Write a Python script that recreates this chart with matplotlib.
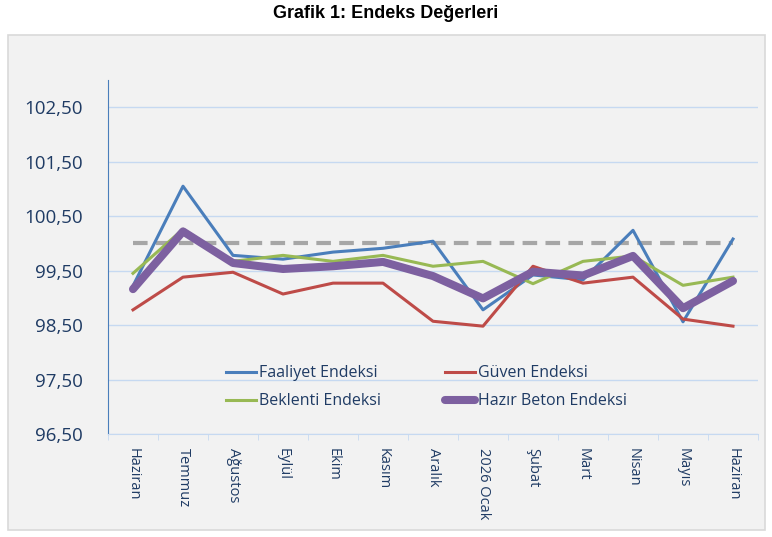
import matplotlib
matplotlib.use("Agg")
import matplotlib.pyplot as plt
from matplotlib.patches import Rectangle

months = ["Haziran", "Temmuz", "Ağustos", "Eylül", "Ekim", "Kasım", "Aralık",
          "2026 Ocak", "Şubat", "Mart", "Nisan", "Mayıs", "Haziran"]
faaliyet = [99.22, 101.05, 99.78, 99.71, 99.84, 99.91, 100.04,
            98.78, 99.42, 99.33, 100.24, 98.56, 100.08]
guven = [98.78, 99.38, 99.47, 99.07, 99.27, 99.27, 98.57,
         98.48, 99.58, 99.27, 99.38, 98.61, 98.48]
beklenti = [99.45, 100.26, 99.67, 99.78, 99.67, 99.78, 99.58,
            99.67, 99.26, 99.67, 99.77, 99.23, 99.38]
hazir_beton = [99.16, 100.22, 99.64, 99.53, 99.58, 99.66, 99.40,
               98.99, 99.48, 99.41, 99.77, 98.81, 99.31]
reference = [100.0] * len(months)
y_ticks = [96.5, 97.5, 98.5, 99.5, 100.5, 101.5, 102.5]
y_labels = ["96,50", "97,50", "98,50", "99,50", "100,50", "101,50", "102,50"]

plt.rcParams['font.family'] = ['Open Sans', 'DejaVu Sans']
txt = "#1f3b64"
bg = "#f2f2f2"

fig = plt.figure(figsize=(7.72, 5.37), dpi=100)
fig.patch.set_facecolor("white")
# chart area box
fig.patches.append(Rectangle((8 / 772, 7 / 537), 757 / 772, 495 / 537,
                             transform=fig.transFigure, facecolor=bg,
                             edgecolor="#d9d9d9", lw=1.2, zorder=-5))
fig.text(386 / 772, 1 - 13 / 537, "Grafik 1: Endeks Değerleri", ha="center", va="center",
         fontsize=13, fontweight="bold", family="Liberation Sans")

ax = fig.add_axes([108 / 772, 103 / 537, 650 / 772, 354 / 537])
ax.set_zorder(2)
ax.set_facecolor(bg)
x = list(range(len(months)))

ax.plot(x, reference, color="#a6a6a6", lw=3, ls=(0, (3.5, 2)), zorder=2)
l1, = ax.plot(x, faaliyet, color="#4a7ebb", lw=2.2, label="Faaliyet Endeksi", zorder=3)
l2, = ax.plot(x, guven, color="#be4b48", lw=2.2, label="Güven Endeksi", zorder=3)
l3, = ax.plot(x, beklenti, color="#98b954", lw=2.2, label="Beklenti Endeksi", zorder=3)
l4, = ax.plot(x, hazir_beton, color="#7d60a0", lw=5.8, label="Hazır Beton Endeksi",
              solid_capstyle="round", solid_joinstyle="round", zorder=4)

ax.set_xlim(-0.5, len(months) - 0.5)
ax.set_ylim(96.5, 103.0)
ax.set_yticks(y_ticks)
ax.set_yticklabels(y_labels, fontsize=13.5, color=txt)
ax.yaxis.grid(True, color="#c6d9f1", lw=1)
ax.set_axisbelow(True)
ax.tick_params(axis="y", length=0, pad=18)

ax.set_xticks(x)
ax.set_xticklabels(months, rotation=-90, fontsize=10.5, color=txt)
ax.set_xticks([i - 0.5 for i in range(len(months) + 1)], minor=True)
ax.tick_params(axis="x", which="major", length=0, pad=10)
ax.tick_params(axis="x", which="minor", length=4, color="#c6d9f1")

for s in ["top", "right"]:
    ax.spines[s].set_visible(False)
ax.spines["left"].set_color("#4a7ebb")
ax.spines["bottom"].set_color("#c6d9f1")

# row-wise order like the original: Faaliyet, Güven / Beklenti, Hazır Beton
leg = ax.legend([l1, l3, l2, l4], [l1.get_label(), l3.get_label(), l2.get_label(), l4.get_label()],
                ncol=2, loc="center", bbox_to_anchor=(0.49, 0.132), frameon=False,
                fontsize=11.5, handlelength=1.9, handletextpad=0.2, columnspacing=4.0,
                labelspacing=0.75)
for t in leg.get_texts():
    t.set_color(txt)

fig.savefig("out.png", dpi=100, facecolor="white")
